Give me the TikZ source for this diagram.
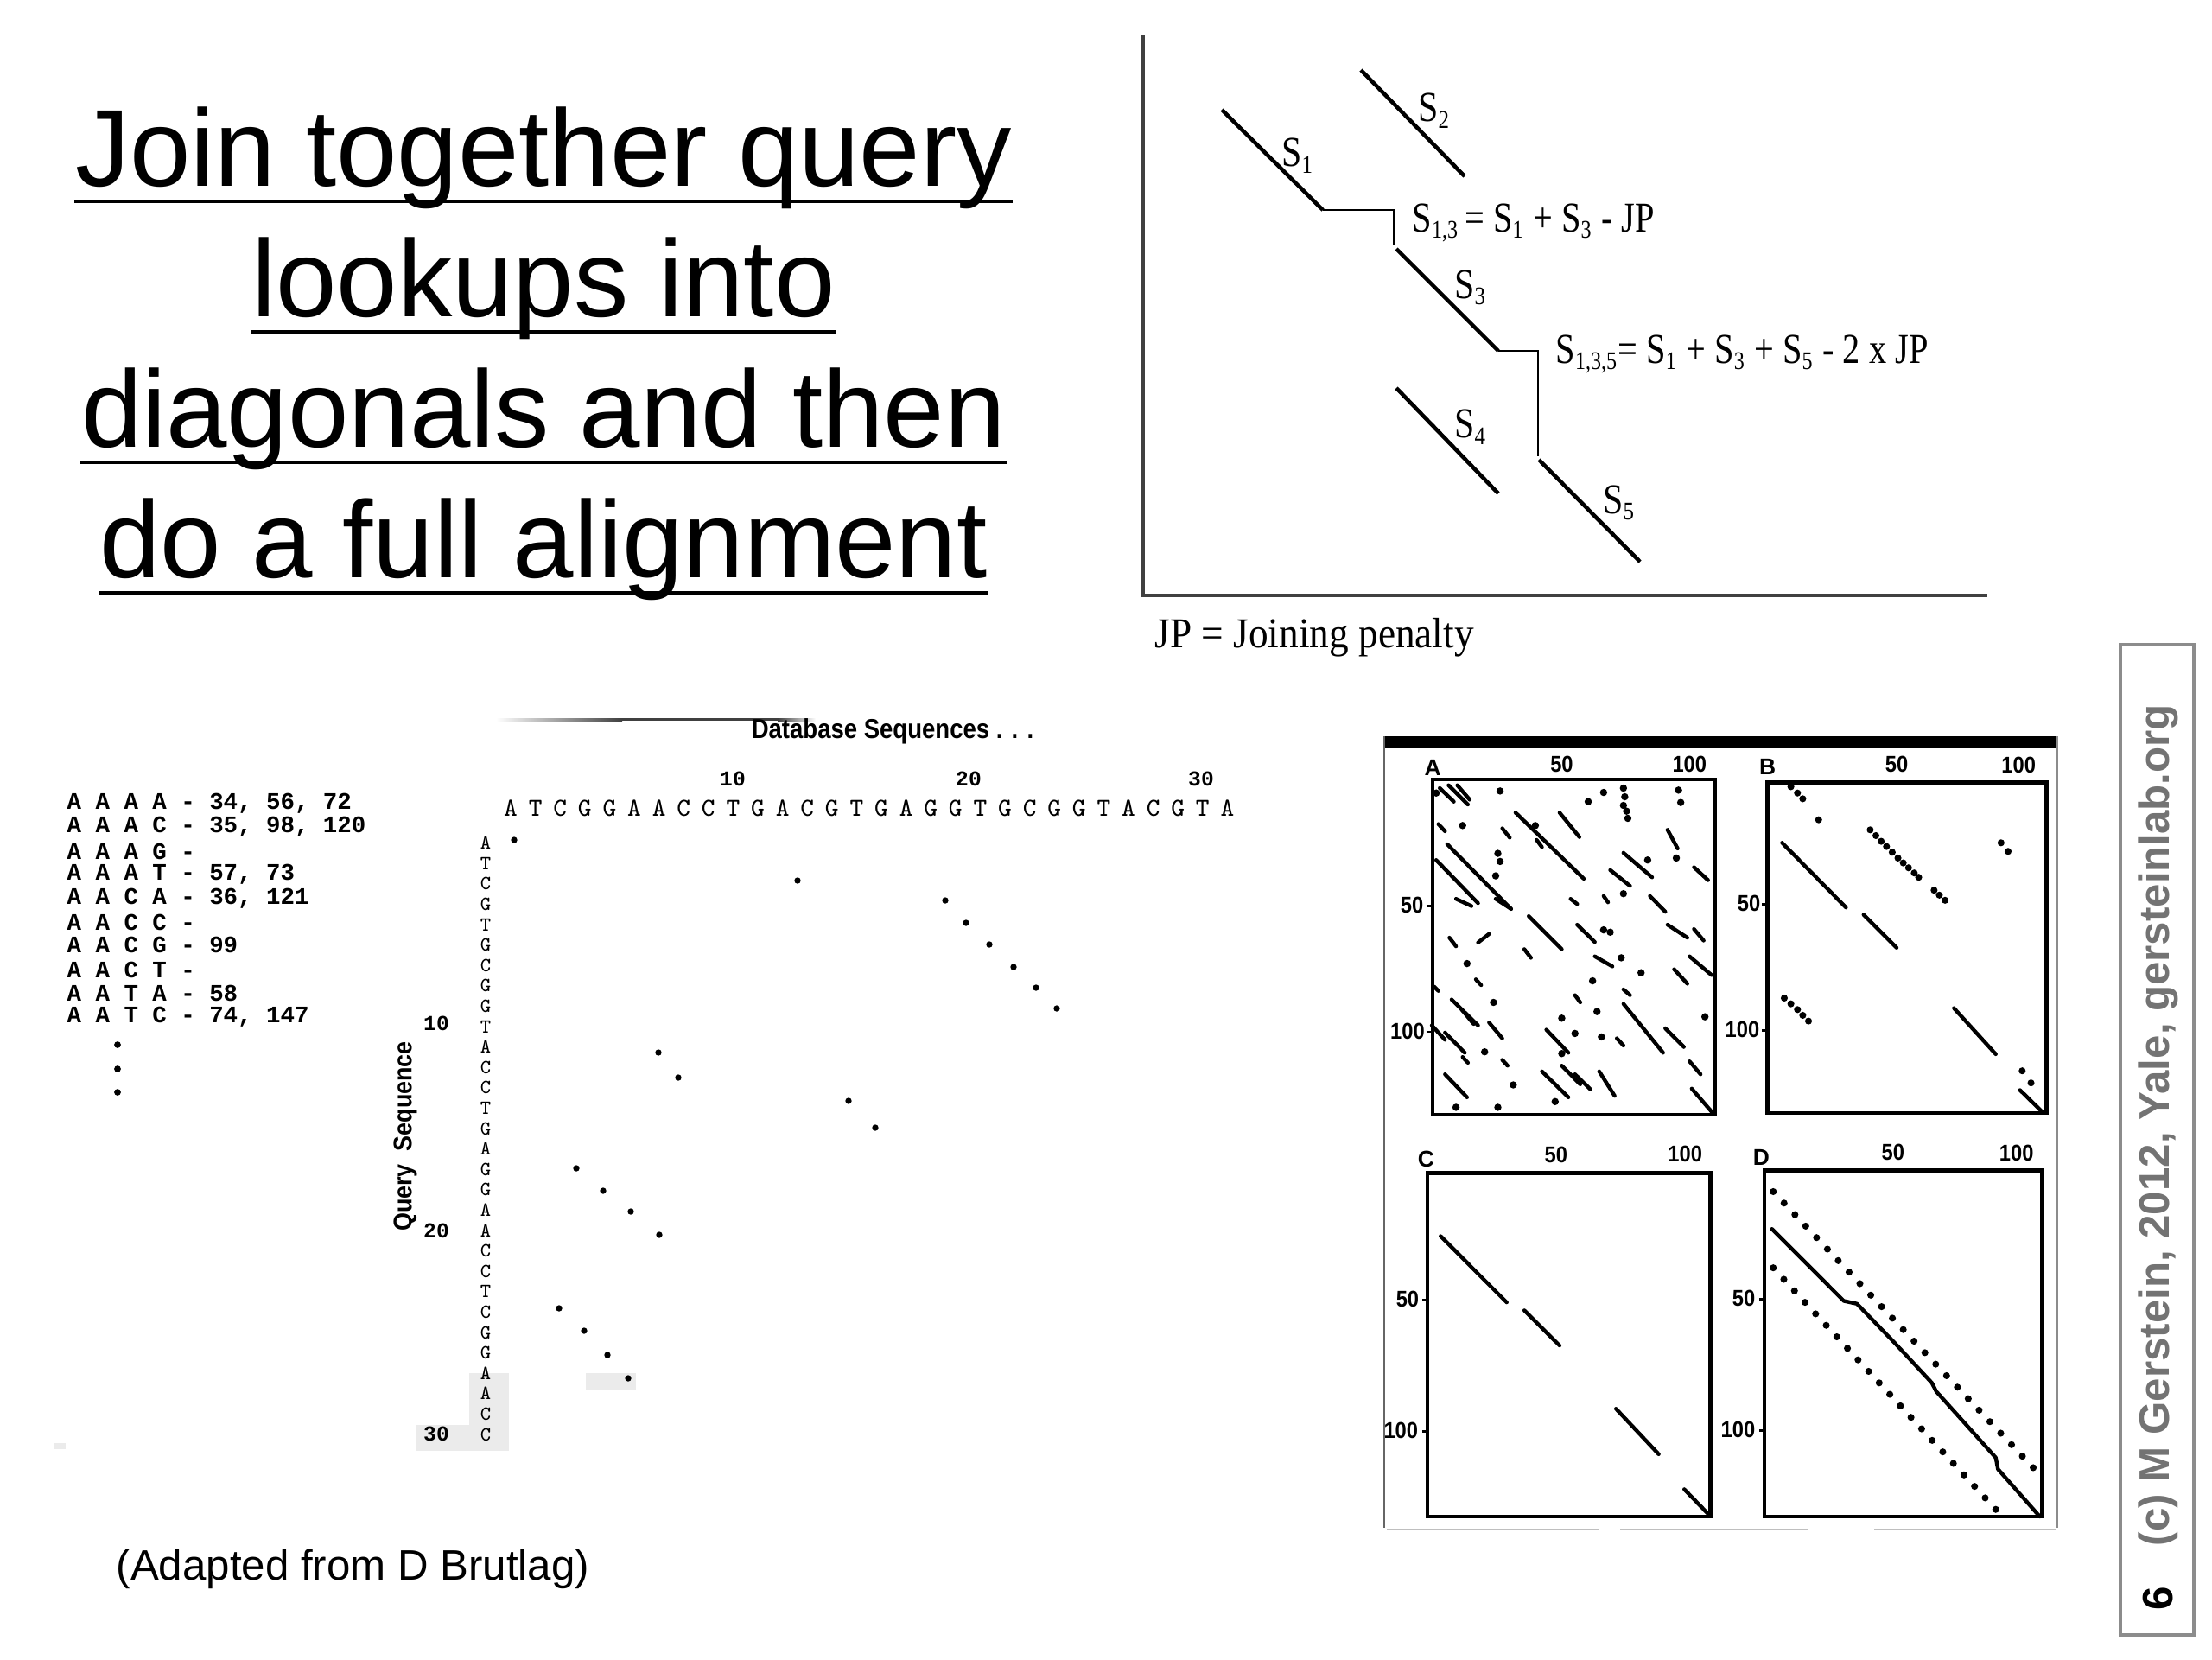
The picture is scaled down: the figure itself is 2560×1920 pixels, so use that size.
\documentclass[tikz,border=0pt]{standalone}
\usepackage{fontspec}
\setmainfont{Liberation Sans}
\newfontfamily\serifA{Liberation Serif}
\newfontfamily\monoA{Liberation Mono}
\usetikzlibrary{calc}
\tikzset{
  title/.style={font=\fontsize{36pt}{43pt}\selectfont, inner sep=0pt, anchor=base},
  uline/.style={line width=1pt},
  seg/.style={line width=1.3pt},
  joinln/.style={line width=0.6pt},
  axisln/.style={line width=0.9pt, black!75},
  slab/.style={font=\serifA\fontsize{14pt}{16pt}\selectfont, inner sep=0pt},
  tbl/.style={font=\monoA\bfseries\fontsize{7.8pt}{9pt}\selectfont, inner sep=0pt, anchor=west},
  seqch/.style={font=\ttfamily\fontsize{8.5pt}{9pt}\selectfont, inner sep=0pt, text height=5.5pt, text depth=0pt},
  qch/.style={font=\ttfamily\fontsize{6.6pt}{7pt}\selectfont, inner sep=0pt, text height=4.4pt, text depth=0pt},
  seqnum/.style={font=\monoA\bfseries\fontsize{7pt}{8pt}\selectfont, inner sep=0pt},
  mdot/.style={fill=black},
  hl/.style={fill=black!8},
  pframe/.style={line width=1.3pt},
  pline/.style={line width=1.25pt, line cap=round},
  plab/.style={font=\bfseries\fontsize{7.5pt}{8pt}\selectfont, inner sep=0pt},
}
\newcommand{\ssub}[1]{\textsubscript{\scalebox{0.85}{#1}}}
\begin{document}
\begin{tikzpicture}[x=0.01cm,y=-0.01cm]
\useasboundingbox (0,0) rectangle (2560,1920);
\fill[white] (0,0) rectangle (2560,1920);

% ---------------- Title ----------------
\node[title] (t1) at (629,215) {Join together query};
\node[title] (t2) at (629,366) {lookups into};
\node[title] (t3) at (629,517) {diagonals and then};
\node[title] (t4) at (629,668) {do a full alignment};
\foreach \n in {t1,t2,t3,t4}
  \draw[uline] ([yshift=-0.18cm]\n.base west) -- ([yshift=-0.18cm]\n.base east);

% ---------------- Top right: joining diagonals ----------------
\coordinate (axtop) at (1323,40);
\coordinate (ax0) at (1323,689);
\coordinate (axr) at (2300,689);
\draw[axisln] (axtop) -- (ax0) -- (axr);
\coordinate (s1a) at (1414,127); \coordinate (s1b) at (1531,243);
\coordinate (j1a) at (1613,243); \coordinate (j1b) at (1613,284);
\coordinate (s3a) at (1616,288); \coordinate (s3b) at (1734,406);
\coordinate (j2a) at (1780,406); \coordinate (j2b) at (1780,528);
\coordinate (s5a) at (1781,532); \coordinate (s5b) at (1898,650);
\coordinate (s2a) at (1575,81);  \coordinate (s2b) at (1695,204);
\coordinate (s4a) at (1616,449); \coordinate (s4b) at (1734,571);
\draw[seg] (s1a) -- (s1b);
\draw[seg] (s2a) -- (s2b);
\draw[seg] (s3a) -- (s3b);
\draw[seg] (s4a) -- (s4b);
\draw[seg] (s5a) -- (s5b);
\draw[joinln] (s1b) -- (j1a) -- (j1b);
\draw[joinln] (s3b) -- (j2a) -- (j2b);
\node[slab] (ls1) at (1502,180) {\scalebox{0.85}[1]{S\ssub{1}}};
\node[slab] (ls2) at (1660,128) {\scalebox{0.85}[1]{S\ssub{2}}};
\node[slab] (ls3) at (1702,333) {\scalebox{0.85}[1]{S\ssub{3}}};
\node[slab] (ls4) at (1702,494) {\scalebox{0.85}[1]{S\ssub{4}}};
\node[slab] (ls5) at (1874,582) {\scalebox{0.85}[1]{S\ssub{5}}};
\node[slab, anchor=west] (eq1) at (1634,258)
  {\scalebox{0.82}[1]{S\ssub{1,3}\,= S\ssub{1} + S\ssub{3} - JP}};
\node[slab, anchor=west] (eq2) at (1800,410)
  {\scalebox{0.82}[1]{S\ssub{1,3,5}= S\ssub{1} + S\ssub{3} + S\ssub{5} - 2 x JP}};
\node[slab, anchor=west] (jp) at (1336,738) {\scalebox{0.92}[1]{JP = Joining penalty}};

% ---------------- Lookup table ----------------
\node[tbl] (r1) at (77,930) {A A A A - 34, 56, 72};
\node[tbl] (r2) at (77,957) {A A A C - 35, 98, 120};
\node[tbl] (r3) at (77,985) {A A A G -};
\node[tbl] (r4) at (77,1012) {A A A T - 57, 73};
\node[tbl] (r5) at (77,1040) {A A C A - 36, 121};
\node[tbl] (r6) at (77,1067) {A A C C -};
\node[tbl] (r7) at (77,1093) {A A C G - 99};
\node[tbl] (r8) at (77,1122) {A A C T -};
\node[tbl] (r9) at (77,1149) {A A T A - 58};
\node[tbl] (r10) at (77,1177) {A A T C - 74, 147};
\fill[mdot] (136,1209) circle (1.1pt);
\fill[mdot] (136,1237) circle (1.1pt);
\fill[mdot] (136,1264) circle (1.1pt);

% ---------------- Dot matrix ----------------
\shade[left color=white, right color=black!75] (574,831) rectangle (720,834);
\fill[black!75] (720,831) rectangle (900,834);
\shade[left color=black!75, right color=white] (900,831) rectangle (944,834);
\node[inner sep=0pt, font=\bfseries\fontsize{9pt}{10pt}\selectfont] (dbs) at (1033,846)
  {\scalebox{0.87}[1]{Database Sequences . . .}};
\node[seqnum] (n10) at (848,901) {10};
\node[seqnum] (n20) at (1121,901) {20};
\node[seqnum] (n30) at (1390,901) {30};
% highlights
\fill[hl] (543,1589) rectangle (589,1679);
\fill[hl] (481,1649) rectangle (589,1679);
\fill[hl] (678,1589) rectangle (736,1608);
\fill[hl] (62,1670) rectangle (76,1677);
\foreach \c [count=\i] in {A,T,C,G,G,A,A,C,C,T,G,A,C,G,T,G,A,G,G,T,G,C,G,G,T,A,C,G,T,A}
  \node[seqch] (d\i) at ({591+(\i-1)*28.6},935) {\c};
\foreach \c [count=\i] in {A,T,C,G,T,G,C,G,G,T,A,C,C,T,G,A,G,G,A,A,C,C,T,C,G,G,A,A,C,C}
  \node[qch] (q\i) at (562,{975+(\i-1)*23.6}) {\c};
\node[seqnum] (m10) at (505,1184) {10};
\node[seqnum] (m20) at (505,1424) {20};
\node[seqnum] (m30) at (505,1659) {30};
\node[rotate=90, inner sep=0pt, font=\bfseries\fontsize{8.5pt}{9pt}\selectfont] (qs) at (469,1315)
  {\scalebox{0.9}[1]{Query\ \ Sequence}};
\foreach \xa/\ya in {595/972, 923/1019, 1094/1042, 1118/1068, 1145/1093, 1173/1119, 1199/1143, 1223/1167,
  762/1218, 785/1247, 982/1274, 1013/1305, 667/1352, 698/1378, 730/1402, 763/1429,
  647/1514, 676/1540, 703/1568, 727/1595}
  \fill[mdot] (\xa,\ya) circle (1.05pt);

\node[anchor=west, inner sep=0pt, font=\fontsize{14pt}{16pt}\selectfont] (adapt) at (134,1816)
  {(Adapted from D Brutlag)};

% ---------------- Four panels ----------------
\fill[black] (1602,852) rectangle (2382,866);
\draw[black!60, line width=0.6pt] (1602,852) -- (1602,1768);
\draw[black!45, line width=0.6pt] (2381,852) -- (2381,1768);
\draw[black!25, line width=0.8pt] (1605,1770) -- (1850,1770);
\draw[black!25, line width=0.8pt] (1875,1770) -- (2092,1770);
\draw[black!25, line width=0.8pt] (2169,1770) -- (2380,1770);

\begin{scope}[xshift=16cm, yshift=-8.4cm, x=0.0051cm, y=-0.003333cm]
  % panel A
  \draw[pframe] (112,185) rectangle (752,1350);
  \node[plab] (pa) at (112,145) {A};
  \node[plab] (pa50) at (405,132) {\scalebox{0.9}[1]{50}};
  \node[plab] (pa100) at (695,132) {\scalebox{0.9}[1]{100}};
  \node[plab] (pal50) at (65,622) {\scalebox{0.9}[1]{50}};
  \node[plab] (pal100) at (55,1060) {\scalebox{0.9}[1]{100}};
  \draw[line width=0.8pt] (98,625) -- (112,625);
  \draw[line width=0.8pt] (98,1062) -- (112,1062);
  \foreach \xa/\ya/\xb/\yb in {128/215/160/262, 148/205/192/272, 168/205/196/255, 125/340/140/365,
    270/355/287/387, 145/410/290/635, 120/465/215/615, 300/300/455/530, 400/300/445/385,
    348/395/360/420, 645/360/668/425, 545/440/610/525, 515/500/560/555, 705/490/737/535,
    255/600/290/635, 330/660/405/775, 440/690/480/750, 605/590/640/645, 645/690/690/735,
    705/705/727/745, 150/735/165/765, 215/752/240/722, 320/775/335/805, 210/880/222/900,
    480/800/520/835, 695/800/745/865, 660/845/690/895, 545/915/560/935, 435/935/447/960,
    155/950/215/1040, 178/985/205/1035, 110/1040/140/1090, 140/1065/185/1135, 240/1030/270/1085,
    370/1055/420/1135, 530/1085/545/1110, 545/965/635/1135, 640/1050/682/1115, 270/1160/282/1180,
    180/1150/192/1170, 140/1210/190/1290, 360/1200/420/1290, 405/1180/447/1245, 435/1210/470/1262,
    490/1200/525/1285, 695/1165/720/1210, 700/1260/745/1340, 425/600/440/618, 500/590/510/612,
    165/600/200/625, 115/905/125/920}
    \draw[pline] (\xa,\ya) -- (\xb,\yb);
  \foreach \xa/\ya in {180/345, 265/225, 500/230, 465/262, 545/215, 548/245, 545/275, 552/295, 555/320,
    670/222, 675/265, 260/442, 265/470, 255/520, 545/582, 500/708, 515/716, 190/825, 540/805, 585/857,
    475/885, 250/960, 485/992, 405/1015, 435/1068, 495/1080, 730/1010, 230/1132, 295/1247, 165/1325,
    260/1325, 390/1305, 665/458, 405/1138, 120/232, 600/465, 345/345}
    \fill[mdot] (\xa,\ya) circle (1.2pt);
  % panel B
  \draw[pframe] (872,195) rectangle (1505,1345);
  \node[plab] (pb) at (872,142) {B};
  \node[plab] (pb50) at (1165,132) {\scalebox{0.9}[1]{50}};
  \node[plab] (pb100) at (1442,135) {\scalebox{0.9}[1]{100}};
  \node[plab] (pbl50) at (830,617) {\scalebox{0.9}[1]{50}};
  \node[plab] (pbl100) at (815,1055) {\scalebox{0.9}[1]{100}};
  \draw[line width=0.8pt] (860,620) -- (872,620);
  \draw[line width=0.8pt] (860,1058) -- (872,1058);
  \foreach \xa/\ya/\xb/\yb in {905/405/1050/630, 1090/655/1165/770, 1295/980/1390/1140, 1445/1265/1495/1340}
    \draw[pline] (\xa,\ya) -- (\xb,\yb);
  \foreach \xa/\ya in {925/210, 940/232, 952/252, 988/325, 1105/360, 1118/380, 1130/400, 1142/418,
    1155/438, 1168/458, 1180/475, 1192/492, 1205/510, 1215/525, 1250/570, 1262/587, 1275/605,
    1402/405, 1418/435, 910/945, 925/965, 940/985, 952/1005, 965/1025, 1450/1198, 1470/1240}
    \fill[mdot] (\xa,\ya) circle (1.15pt);
\end{scope}

\begin{scope}[xshift=16cm, yshift=-13cm, x=0.0051cm, y=-0.003333cm]
  % panel C
  \draw[pframe] (100,170) rectangle (742,1365);
  \node[plab] (pc) at (97,122) {C};
  \node[plab] (pc50) at (392,108) {\scalebox{0.9}[1]{50}};
  \node[plab] (pc100) at (685,103) {\scalebox{0.9}[1]{100}};
  \node[plab] (pcl50) at (55,610) {\scalebox{0.9}[1]{50}};
  \node[plab] (pcl100) at (40,1065) {\scalebox{0.9}[1]{100}};
  \draw[line width=0.8pt] (88,612) -- (100,612);
  \draw[line width=0.8pt] (88,1068) -- (100,1068);
  \foreach \xa/\ya/\xb/\yb in {130/390/280/620, 320/648/400/770, 528/990/625/1148, 683/1270/740/1360}
    \draw[pline] (\xa,\ya) -- (\xb,\yb);
  % panel D
  \draw[pframe] (865,162) rectangle (1495,1365);
  \node[plab] (pd) at (858,115) {D};
  \node[plab] (pd50) at (1157,98) {\scalebox{0.9}[1]{50}};
  \node[plab] (pd100) at (1437,102) {\scalebox{0.9}[1]{100}};
  \node[plab] (pdl50) at (818,607) {\scalebox{0.9}[1]{50}};
  \node[plab] (pdl100) at (805,1062) {\scalebox{0.9}[1]{100}};
  \draw[line width=0.8pt] (853,610) -- (865,610);
  \draw[line width=0.8pt] (853,1065) -- (865,1065);
  \draw[pline, line join=round] (882,365) -- (1045,615) -- (1075,625) -- (1160,760) -- (1245,900)
    -- (1255,930) -- (1390,1160) -- (1395,1200) -- (1490,1365);
  \foreach \t in {0,...,24}
    \fill[mdot] ($(885,235)!\t/24!(1475,1195)$) circle (1.15pt);
  \foreach \t in {0,...,21}
    \fill[mdot] ($(885,500)!\t/21!(1390,1340)$) circle (1.15pt);
\end{scope}

% ---------------- Side box ----------------
\draw[black!45, line width=1.1pt] (2454,746) rectangle (2539,1892);
\node[rotate=90, inner sep=0pt, text=black!55, font=\bfseries\fontsize{14pt}{16pt}\selectfont] (cpy) at (2498,1302)
  {(c) M Gerstein, 2012, Yale, gersteinlab.org};
\node[rotate=90, inner sep=0pt, font=\bfseries\fontsize{14pt}{16pt}\selectfont] (pg) at (2498,1850) {6};
\end{tikzpicture}
\end{document}
